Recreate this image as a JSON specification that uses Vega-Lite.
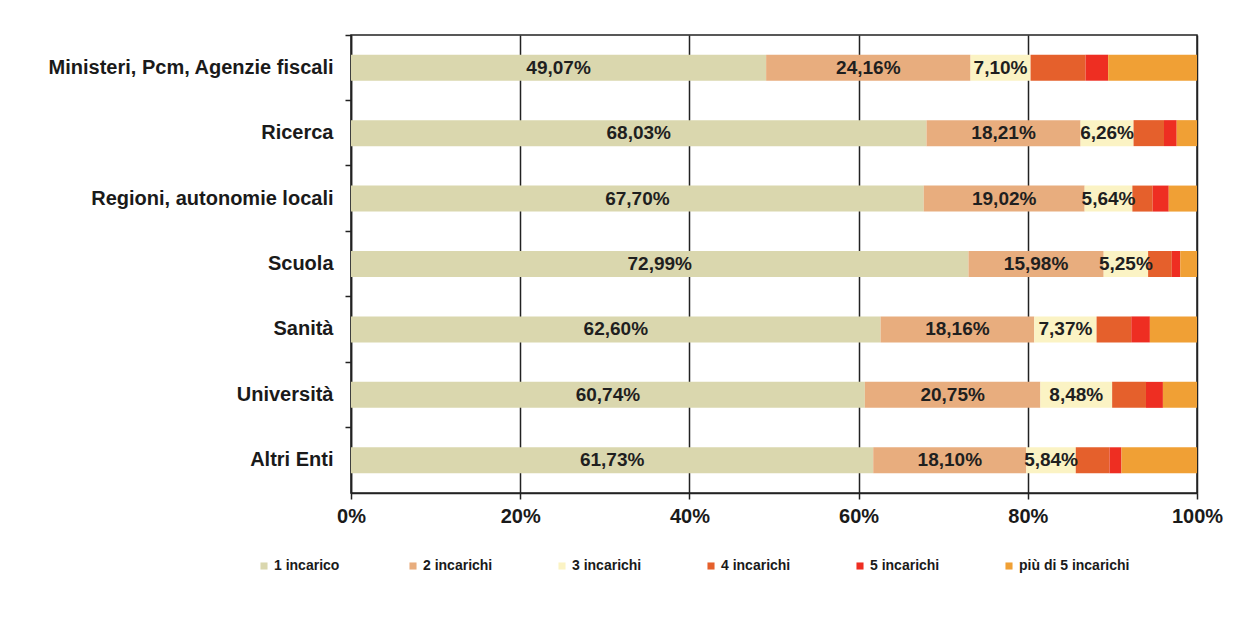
{
  "$schema": "https://vega.github.io/schema/vega-lite/v6.json",
  "autosize": "none",
  "width": 846,
  "height": 458,
  "padding": {"left": 351, "top": 35, "right": 37, "bottom": 132},
  "background": "white",
  "config": {
    "locale": {"number": {"decimal": ",", "thousands": ".", "grouping": [3], "currency": ["", " €"]}},
    "font": "Liberation Sans",
    "view": {"stroke": "#222", "strokeWidth": 1.5}
  },
  "data": {
    "values": [
      {"cat": "Ministeri, Pcm, Agenzie fiscali", "type": "1 incarico", "k": 1, "v": 0.4907},
      {"cat": "Ministeri, Pcm, Agenzie fiscali", "type": "2 incarichi", "k": 2, "v": 0.2416},
      {"cat": "Ministeri, Pcm, Agenzie fiscali", "type": "3 incarichi", "k": 3, "v": 0.0710},
      {"cat": "Ministeri, Pcm, Agenzie fiscali", "type": "4 incarichi", "k": 4, "v": 0.0650},
      {"cat": "Ministeri, Pcm, Agenzie fiscali", "type": "5 incarichi", "k": 5, "v": 0.0267},
      {"cat": "Ministeri, Pcm, Agenzie fiscali", "type": "più di 5 incarichi", "k": 6, "v": 0.1050},
      {"cat": "Ricerca", "type": "1 incarico", "k": 1, "v": 0.6803},
      {"cat": "Ricerca", "type": "2 incarichi", "k": 2, "v": 0.1821},
      {"cat": "Ricerca", "type": "3 incarichi", "k": 3, "v": 0.0626},
      {"cat": "Ricerca", "type": "4 incarichi", "k": 4, "v": 0.0360},
      {"cat": "Ricerca", "type": "5 incarichi", "k": 5, "v": 0.0150},
      {"cat": "Ricerca", "type": "più di 5 incarichi", "k": 6, "v": 0.0240},
      {"cat": "Regioni, autonomie locali", "type": "1 incarico", "k": 1, "v": 0.6770},
      {"cat": "Regioni, autonomie locali", "type": "2 incarichi", "k": 2, "v": 0.1902},
      {"cat": "Regioni, autonomie locali", "type": "3 incarichi", "k": 3, "v": 0.0564},
      {"cat": "Regioni, autonomie locali", "type": "4 incarichi", "k": 4, "v": 0.0240},
      {"cat": "Regioni, autonomie locali", "type": "5 incarichi", "k": 5, "v": 0.0190},
      {"cat": "Regioni, autonomie locali", "type": "più di 5 incarichi", "k": 6, "v": 0.0334},
      {"cat": "Scuola", "type": "1 incarico", "k": 1, "v": 0.7299},
      {"cat": "Scuola", "type": "2 incarichi", "k": 2, "v": 0.1598},
      {"cat": "Scuola", "type": "3 incarichi", "k": 3, "v": 0.0525},
      {"cat": "Scuola", "type": "4 incarichi", "k": 4, "v": 0.0280},
      {"cat": "Scuola", "type": "5 incarichi", "k": 5, "v": 0.0100},
      {"cat": "Scuola", "type": "più di 5 incarichi", "k": 6, "v": 0.0198},
      {"cat": "Sanità", "type": "1 incarico", "k": 1, "v": 0.6260},
      {"cat": "Sanità", "type": "2 incarichi", "k": 2, "v": 0.1816},
      {"cat": "Sanità", "type": "3 incarichi", "k": 3, "v": 0.0737},
      {"cat": "Sanità", "type": "4 incarichi", "k": 4, "v": 0.0410},
      {"cat": "Sanità", "type": "5 incarichi", "k": 5, "v": 0.0220},
      {"cat": "Sanità", "type": "più di 5 incarichi", "k": 6, "v": 0.0557},
      {"cat": "Università", "type": "1 incarico", "k": 1, "v": 0.6074},
      {"cat": "Università", "type": "2 incarichi", "k": 2, "v": 0.2075},
      {"cat": "Università", "type": "3 incarichi", "k": 3, "v": 0.0848},
      {"cat": "Università", "type": "4 incarichi", "k": 4, "v": 0.0400},
      {"cat": "Università", "type": "5 incarichi", "k": 5, "v": 0.0200},
      {"cat": "Università", "type": "più di 5 incarichi", "k": 6, "v": 0.0403},
      {"cat": "Altri Enti", "type": "1 incarico", "k": 1, "v": 0.6173},
      {"cat": "Altri Enti", "type": "2 incarichi", "k": 2, "v": 0.1810},
      {"cat": "Altri Enti", "type": "3 incarichi", "k": 3, "v": 0.0584},
      {"cat": "Altri Enti", "type": "4 incarichi", "k": 4, "v": 0.0400},
      {"cat": "Altri Enti", "type": "5 incarichi", "k": 5, "v": 0.0140},
      {"cat": "Altri Enti", "type": "più di 5 incarichi", "k": 6, "v": 0.0893}
    ]
  },
  "encoding": {
    "y": {
      "field": "cat", "type": "nominal", "sort": null,
      "scale": {"paddingInner": 0, "paddingOuter": 0},
      "axis": {
        "title": null, "bandPosition": 0, "tickSize": 6, "tickColor": "#222", "tickWidth": 1.5,
        "domainColor": "#222", "domainWidth": 1.5,
        "labelFont": "Liberation Sans", "labelFontSize": 20, "labelFontWeight": "bold",
        "labelColor": "#1a1a1a", "labelPadding": 12, "labelLimit": 400
      }
    },
    "x": {
      "field": "v", "type": "quantitative", "stack": "zero",
      "scale": {"domain": [0, 1], "nice": false},
      "axis": {
        "title": null, "format": ".0%", "values": [0, 0.2, 0.4, 0.6, 0.8, 1],
        "grid": true, "gridColor": "#222", "gridWidth": 1.5,
        "tickSize": 6, "tickColor": "#222", "tickWidth": 1.5,
        "domainColor": "#222", "domainWidth": 1.5, "labelFlush": false,
        "labelFont": "Liberation Sans", "labelFontSize": 20, "labelFontWeight": "bold",
        "labelColor": "#1a1a1a", "labelPadding": 7
      }
    },
    "order": {"field": "k", "type": "quantitative"}
  },
  "layer": [
    {
      "mark": {"type": "bar", "height": 26},
      "encoding": {
        "color": {
          "field": "type", "type": "nominal",
          "scale": {
            "domain": ["1 incarico", "2 incarichi", "3 incarichi", "4 incarichi", "5 incarichi", "più di 5 incarichi"],
            "range": ["#DAD7AE", "#E8AD7E", "#FBF3C4", "#E5602C", "#EE2E22", "#F0A035"]
          },
          "legend": {
            "title": null, "orient": "none", "legendX": -94, "legendY": 524,
            "direction": "horizontal", "columns": 6, "gridAlign": "all", "columnPadding": 21,
            "symbolType": "square", "symbolSize": 50, "symbolStrokeWidth": 0,
            "labelFont": "Liberation Sans", "labelFontSize": 14, "labelFontWeight": "bold",
            "labelColor": "#1a1a1a", "labelOffset": 3
          }
        }
      }
    },
    {
      "transform": [{"filter": "datum.k <= 3"}],
      "mark": {"type": "text", "font": "Liberation Sans", "fontSize": 19, "fontWeight": "bold", "color": "#1f1f1f"},
      "encoding": {
        "x": {"field": "v", "type": "quantitative", "stack": "zero", "bandPosition": 0.5},
        "text": {"field": "v", "type": "quantitative", "format": ".2%"}
      }
    }
  ]
}
